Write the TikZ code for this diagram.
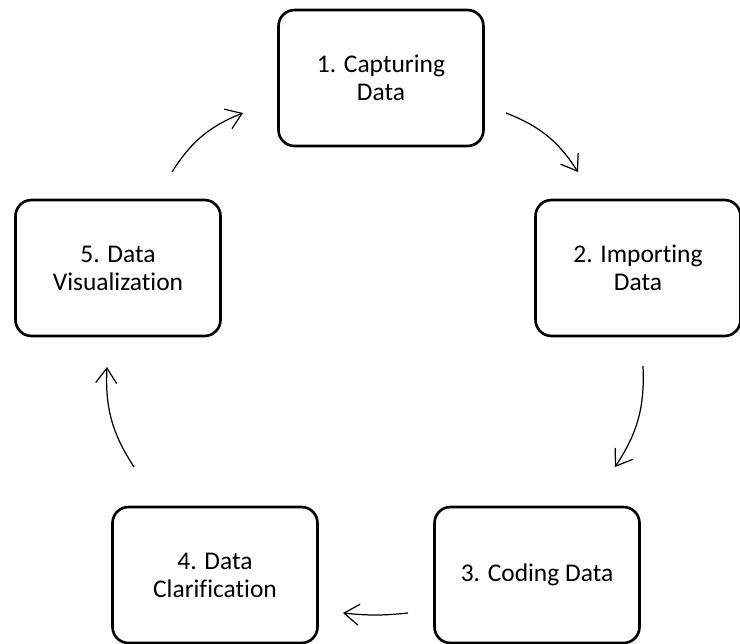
\documentclass[tikz,border=0pt]{standalone}
\usepackage{fontspec}
\setmainfont{Carlito}[Ligatures={NoCommon, NoContextual}]
\usetikzlibrary{arrows.meta, positioning}
\definecolor{ink}{HTML}{000000}

\begin{document}
\begin{tikzpicture}[x=0.02cm, y=0.02cm,
    stage/.style={draw=ink, line width=1.5pt, rounded corners=0.32cm,
      minimum width=4.1cm, minimum height=2.72cm, align=center,
      text=ink, font=\fontsize{14.5}{16}\selectfont},
    flow/.style={draw=ink, line width=0.7pt,
      -{Straight Barb[length=0.3cm, width=0.42cm]}}]
    \useasboundingbox (0, -644) rectangle (740, 0);
    % the five stages, clockwise from the top
    \node[stage] (capture) at (381, -78)  {1. Capturing\\Data};
    \node[stage] (import)  at (638, -268) {2. Importing\\Data};
    \node[stage] (coding)  at (537, -575) {3. Coding Data};
    \node[stage] (clarify) at (215, -575) {4. Data\\Clarification};
    \node[stage] (visual)  at (118, -268) {5. Data\\Visualization};
    % free ends of the curved arrows
    \coordinate (c1a) at (506, -113); \coordinate (c1b) at (578, -172);
    \coordinate (c2a) at (643, -366); \coordinate (c2b) at (615, -467);
    \coordinate (c3a) at (408, -613); \coordinate (c3b) at (343, -613);
    \coordinate (c4a) at (134, -467); \coordinate (c4b) at (107, -367);
    \coordinate (c5a) at (172, -172); \coordinate (c5b) at (243, -113);
    \draw[flow] (c1a) to[bend left=18] (c1b);
    \draw[flow] (c2a) to[bend left=18] (c2b);
    \draw[flow] (c3a) to[bend left=6]  (c3b);
    \draw[flow] (c4a) to[bend left=18] (c4b);
    \draw[flow] (c5a) to[bend left=18] (c5b);
\end{tikzpicture}
\end{document}
